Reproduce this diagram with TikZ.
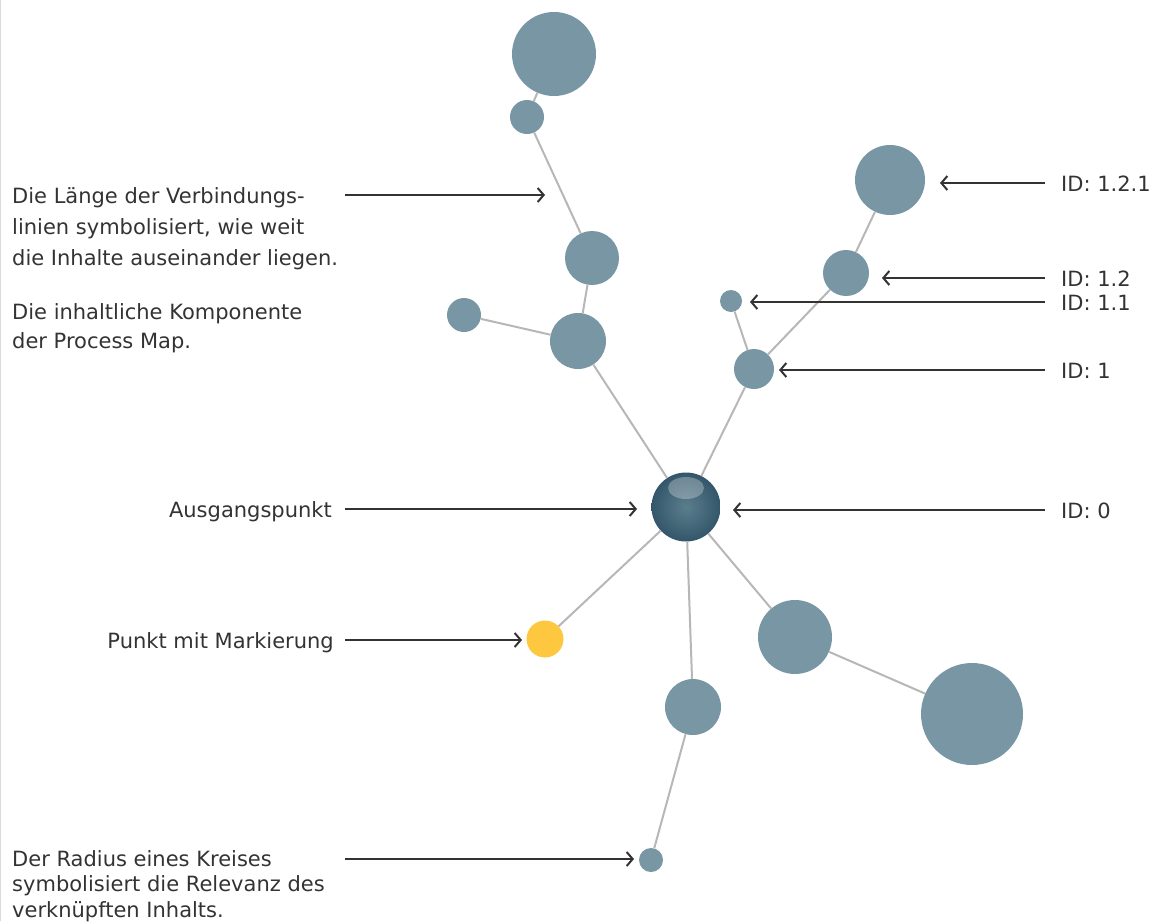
\documentclass[tikz,border=0pt]{standalone}
\usepackage{fontspec}
\setmainfont{DejaVu Sans}
\usetikzlibrary{arrows.meta}
\definecolor{knotenblau}{HTML}{7896A3}
\definecolor{gelb}{HTML}{FDC840}
\definecolor{linie}{HTML}{B8B6B6}
\definecolor{pfeil}{HTML}{333333}
\definecolor{kernhell}{HTML}{5B7E8E}
\definecolor{kerndunkel}{HTML}{34566A}

\begin{document}
\begin{tikzpicture}[x=1pt,y=-1pt,
    knoten/.style={circle,fill=knotenblau,inner sep=0pt,minimum size=#1},
    kante/.style={draw=linie,line width=2pt},
    zeiger/.style={draw=pfeil,line width=2pt,-{Straight Barb[length=6pt,width=14pt,line width=2pt]}},
    beschr/.style={font=\fontsize{21}{#1}\selectfont,text=pfeil,inner sep=0pt,align=left},
    beschr/.default=25.5]
  \useasboundingbox (0,0) rectangle (1164,921);
  \draw[gray!30,line width=1pt] (0.5,0) -- (0.5,921);

  % Knoten (Mittelpunkt, Durchmesser)
  \node[circle,inner sep=0pt,minimum size=69,inner color=kernhell,outer color=kerndunkel] (k0) at (686,507) {};
  \fill[white,opacity=0.28] (686,488) ellipse (18 and 11);
  \node[knoten=40] (k1) at (754,369) {};
  \node[knoten=22] (k11) at (731,301) {};
  \node[knoten=46] (k12) at (846,273) {};
  \node[knoten=70] (k121) at (890,180) {};
  \node[knoten=56] (a1) at (578,341) {};
  \node[knoten=34] (a11) at (464,315) {};
  \node[knoten=54] (a12) at (592,258) {};
  \node[knoten=34] (a121) at (527,117) {};
  \node[knoten=84] (a1211) at (554,54) {};
  \node[circle,fill=gelb,inner sep=0pt,minimum size=37] (m) at (545,639) {};
  \node[knoten=74] (b1) at (795,637) {};
  \node[knoten=102] (b11) at (972,714) {};
  \node[knoten=56] (c1) at (693,707) {};
  \node[knoten=24] (c11) at (651,860) {};

  % Verbindungslinien
  \foreach \a/\b in {k0/k1,k1/k11,k1/k12,k12/k121,k0/a1,a1/a11,a1/a12,a12/a121,a121/a1211,
                     k0/m,k0/b1,b1/b11,k0/c1,c1/c11}
    \draw[kante] (\a) -- (\b);

  % Beschriftungen links (Anker: Grundlinie der letzten Zeile)
  \node[beschr=31,anchor=base west] (l1) at (12,265)
    {Die Länge der Verbindungs-\\linien symbolisiert, wie weit\\die Inhalte auseinander liegen.};
  \node[beschr=29,anchor=base west] (l2) at (12,348)
    {Die inhaltliche Komponente\\der Process Map.};
  \node[beschr,anchor=base east] (l3) at (332,517) {Ausgangspunkt};
  \node[beschr,anchor=base east] (l4) at (334,648) {Punkt mit Markierung};
  \node[beschr,anchor=base west] (l5) at (12,917)
    {Der Radius eines Kreises\\symbolisiert die Relevanz des\\verknüpften Inhalts.};

  % Beschriftungen rechts
  \node[beschr,anchor=base west] (id121) at (1061,191) {ID: 1.2.1};
  \node[beschr,anchor=base west] (id12) at (1061,286) {ID: 1.2};
  \node[beschr,anchor=base west] (id11) at (1061,310) {ID: 1.1};
  \node[beschr,anchor=base west] (id1) at (1061,378) {ID: 1};
  \node[beschr,anchor=base west] (id0) at (1061,518) {ID: 0};

  % Pfeile
  \coordinate (s1) at (345,195);   \coordinate (t1) at (545,195);
  \coordinate (s3) at (345,509);   \coordinate (t3) at (637,509);
  \coordinate (s4) at (345,640);   \coordinate (t4) at (522,640);
  \coordinate (s5) at (345,859);   \coordinate (t5) at (634,859);
  \coordinate (r121) at (1045,183); \coordinate (z121) at (940,183);
  \coordinate (r12) at (1045,278);  \coordinate (z12) at (882,278);
  \coordinate (r11) at (1045,302);  \coordinate (z11) at (750,302);
  \coordinate (r1) at (1045,370);   \coordinate (z1) at (779,370);
  \coordinate (r0) at (1045,510);   \coordinate (z0) at (733,510);
  \foreach \p/\q in {s1/t1,s3/t3,s4/t4,s5/t5,r121/z121,r12/z12,r11/z11,r1/z1,r0/z0}
    \draw[zeiger] (\p) -- (\q);
\end{tikzpicture}
\end{document}
